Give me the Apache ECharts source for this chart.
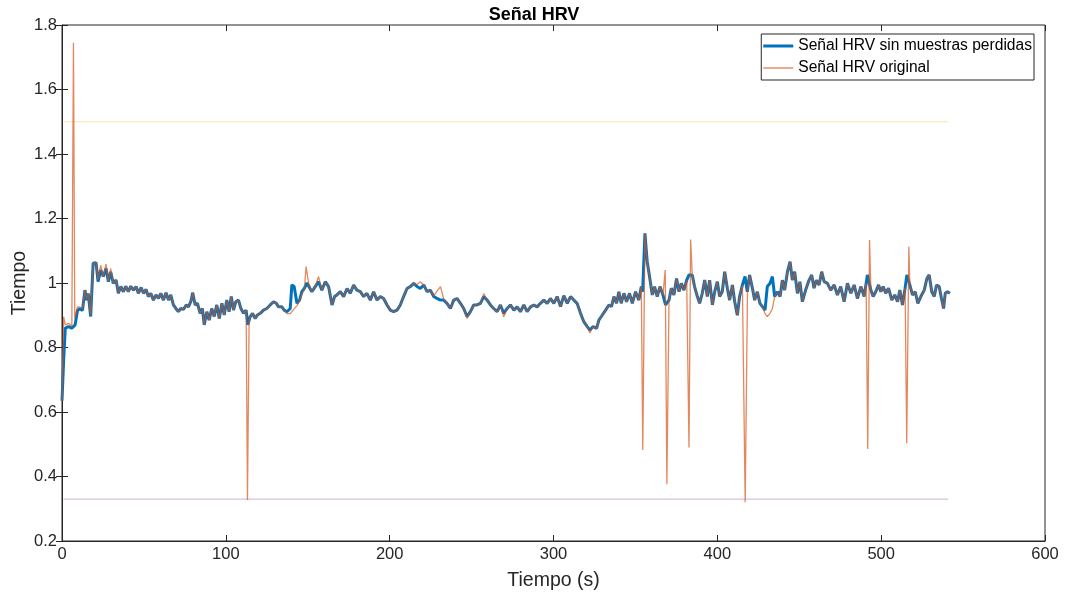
<!DOCTYPE html>
<html>
<head>
<meta charset="utf-8">
<script src="https://cdn.jsdelivr.net/npm/echarts@6/dist/echarts.min.js"></script>
<style>html,body{margin:0;padding:0;background:#fff;}#chart{width:1068px;height:598px;}</style>
</head>
<body>
<div id="chart"></div>
<script>
// ---- DATA ----
const xTicks = [0, 100, 200, 300, 400, 500, 600];
const yTicks = [0.2, 0.4, 0.6, 0.8, 1, 1.2, 1.4, 1.6, 1.8];

// Señal HRV sin muestras perdidas: [tiempo (s), valor]
const senalLimpia = [
[0,0.635],[1,0.76],[2,0.86],[4,0.865],[6,0.86],[8,0.87],[9.5,0.916],[11,0.92],[12.5,0.915],[14,0.978],[15,0.947],[16,0.968],[17.5,0.896],[19,1.061],[20.8,1.063],[22,1.004],[23.6,1.04],[25.2,1.02],[26.9,1.045],[28.3,1.004],[29.7,1.035],[31.3,0.999],[33,1.009],[34.4,0.968],[35.9,0.989],[37.5,0.973],[38.9,0.99],[40.5,0.973],[42,0.99],[43.6,0.978],[45.2,0.989],[46.6,0.968],[48.3,0.986],[49.7,0.968],[51.3,0.98],[52.7,0.958],[54.2,0.968],[55.8,0.947],[57.4,0.963],[58.9,0.952],[60.3,0.968],[61.9,0.947],[63.5,0.97],[65,0.947],[66.4,0.963],[68,0.932],[69.5,0.921],[71,0.911],[72.5,0.921],[74.1,0.918],[75.8,0.932],[77.2,0.926],[78.6,0.942],[79.8,0.97],[81.3,0.932],[82.7,0.937],[84.3,0.906],[85.7,0.921],[86.8,0.87],[88.4,0.911],[89.8,0.885],[91.4,0.921],[92.9,0.896],[94.5,0.932],[96,0.89],[97.6,0.937],[99,0.901],[100.6,0.947],[102,0.911],[103.3,0.958],[104.7,0.916],[106.1,0.942],[107.7,0.947],[109.2,0.921],[110.8,0.906],[112.4,0.916],[113.4,0.87],[114.9,0.896],[116.3,0.906],[117.9,0.89],[119.3,0.901],[121,0.906],[123,0.916],[125,0.921],[127.1,0.932],[129.1,0.942],[130.8,0.937],[132.2,0.926],[134.2,0.926],[135.6,0.916],[137.3,0.911],[139.3,0.921],[140.3,0.994],[141.7,0.989],[143.4,0.937],[145,0.947],[146.4,0.973],[147.9,0.983],[149.5,1.0],[150.5,1.004],[152.5,0.973],[154.6,0.989],[156.6,1.004],[158.6,0.978],[160.7,1.004],[162.7,0.989],[164.8,0.932],[166.4,0.958],[167.8,0.963],[169.9,0.973],[171.9,0.958],[174,0.983],[176,0.968],[178,0.994],[180,0.978],[182.1,0.973],[184.1,0.958],[186.1,0.968],[188.2,0.947],[190.2,0.973],[192.3,0.947],[194.3,0.958],[196.3,0.952],[198.4,0.932],[200.4,0.916],[202.4,0.911],[204.5,0.916],[206.5,0.932],[208.5,0.958],[210.6,0.983],[212.6,0.989],[214.7,0.999],[216.7,0.989],[218.7,0.983],[220.8,0.994],[222.8,0.973],[224.8,0.978],[226.9,0.958],[228.9,0.952],[231,0.947],[233,0.947],[235,0.937],[237.1,0.921],[239.1,0.947],[241.1,0.952],[243.2,0.937],[245.2,0.921],[247.2,0.896],[249.3,0.911],[251.3,0.932],[253.3,0.932],[255.4,0.937],[257.4,0.958],[259.5,0.947],[261.5,0.932],[263.5,0.921],[265.6,0.911],[267.6,0.932],[269.6,0.906],[271.7,0.921],[273.7,0.932],[275.8,0.916],[277.8,0.926],[279.8,0.911],[281.9,0.932],[283.9,0.911],[286,0.926],[288,0.932],[290,0.926],[292,0.937],[294.1,0.947],[296.1,0.937],[298.1,0.952],[300.2,0.937],[302.2,0.958],[304.3,0.927],[306.3,0.961],[308.4,0.937],[310.4,0.958],[312.4,0.947],[314.4,0.937],[316.5,0.906],[318.5,0.88],[320.6,0.865],[322.2,0.854],[324.2,0.865],[326.3,0.859],[327.7,0.885],[329.7,0.9],[331.8,0.916],[333.8,0.932],[335.4,0.927],[336.9,0.958],[338.5,0.937],[339.9,0.973],[341.3,0.937],[343,0.968],[344.6,0.942],[346.4,0.968],[348.1,0.937],[350.1,0.973],[352.1,0.947],[353.6,0.989],[354.4,0.973],[355.8,1.154],[357.2,1.066],[358.8,1.014],[360.3,0.963],[361.7,0.989],[363.3,0.958],[365,0.989],[366.8,0.963],[368.4,0.932],[370.5,0.947],[371.9,0.984],[373.5,0.963],[375.1,1.014],[376.6,0.973],[378,0.999],[379.6,0.978],[381.3,1.009],[382.7,1.025],[384.7,1.025],[386.1,0.989],[387.8,0.958],[389.2,0.937],[390.8,0.968],[392.3,1.009],[393.9,0.958],[395.3,1.009],[397,0.932],[398.4,0.973],[400,1.004],[401.4,0.958],[403,0.973],[404.5,1.035],[406.1,0.984],[407.5,0.947],[409.2,0.994],[410.6,0.942],[412.2,0.9],[413.6,0.958],[415.3,0.994],[416.9,1.02],[418.3,0.973],[419.7,1.025],[421.4,0.984],[422.8,0.947],[424.4,0.973],[426,0.937],[427.5,0.927],[429.1,0.916],[430.5,0.989],[432.2,0.999],[433.6,1.02],[435,0.958],[436.7,0.973],[438.3,0.958],[439.7,1.009],[441.1,0.978],[442.8,1.035],[444.4,1.066],[445.8,1.009],[447.2,1.035],[448.9,0.968],[450.4,1.004],[451.9,0.942],[453.9,0.978],[456,1.009],[457.6,1.025],[459,0.984],[460.5,1.009],[462.1,0.994],[463.7,1.035],[465.2,1.004],[467.2,0.999],[469.2,0.978],[471.3,0.994],[473.3,0.963],[475.3,0.989],[477.4,0.942],[479.4,0.999],[481.5,0.968],[483.5,0.994],[485.5,0.952],[487.6,0.989],[489.6,0.958],[491.6,1.025],[493.7,0.978],[495.1,0.958],[496.7,0.973],[498.4,0.994],[499.8,0.973],[501.2,0.989],[502.8,0.968],[504.5,0.984],[506.5,0.947],[508.3,0.963],[510,0.942],[511.4,0.978],[513,0.932],[514.6,0.984],[515.7,1.025],[517.5,0.994],[519.1,0.963],[520.8,0.973],[522.4,0.937],[524.2,0.958],[526.3,0.978],[527.9,1.014],[529.3,1.025],[530.9,0.973],[532.4,0.958],[533.8,0.994],[535.4,0.989],[536.8,0.952],[538.1,0.921],[539.1,0.968],[540.5,0.973],[542,0.968]
];

// Señal HRV original: [tiempo (s), valor]
const senalOriginal = [
[0,0.635],[1,0.895],[2,0.87],[4,0.875],[6,0.865],[6.5,0.87],[7,1.745],[7.8,0.89],[9.5,0.926],[11,0.925],[12.5,0.92],[14,0.978],[15,0.95],[16,0.968],[17.5,0.9],[19,1.061],[20.8,1.063],[22,1.01],[23.6,1.055],[25.2,1.02],[26.9,1.059],[28.3,1.004],[29.7,1.045],[31.3,0.999],[33,1.009],[34.4,0.968],[35.9,0.989],[37.5,0.973],[38.9,0.99],[40.5,0.973],[42,0.99],[43.6,0.978],[45.2,0.989],[46.6,0.968],[48.3,0.986],[49.7,0.968],[51.3,0.98],[52.7,0.958],[54.2,0.968],[55.8,0.947],[57.4,0.963],[58.9,0.952],[60.3,0.968],[61.9,0.947],[63.5,0.97],[65,0.947],[66.4,0.963],[68,0.932],[69.5,0.921],[71,0.911],[72.5,0.921],[74.1,0.918],[75.8,0.932],[77.2,0.926],[78.6,0.942],[79.8,0.97],[81.3,0.932],[82.7,0.937],[84.3,0.906],[85.7,0.921],[86.8,0.87],[88.4,0.911],[89.8,0.885],[91.4,0.921],[92.9,0.896],[94.5,0.932],[96,0.89],[97.6,0.937],[99,0.901],[100.6,0.947],[102,0.911],[103.3,0.958],[104.7,0.916],[106.1,0.942],[107.7,0.947],[109.2,0.921],[110.8,0.906],[112.4,0.916],[113.2,0.327],[114.2,0.88],[114.9,0.896],[116.3,0.906],[117.9,0.89],[119.3,0.901],[121,0.906],[123,0.916],[125,0.921],[127.1,0.932],[129.1,0.942],[130.8,0.937],[132.2,0.926],[134.2,0.926],[135.6,0.916],[137.3,0.905],[139.3,0.905],[140.3,0.91],[141.7,0.92],[143.4,0.93],[145,0.945],[146.4,0.965],[147.9,0.98],[149,1.051],[150.5,1.0],[152.5,0.973],[154.6,0.989],[156.6,1.02],[158.6,0.978],[160.7,1.004],[162.7,0.989],[164.8,0.932],[166.4,0.958],[167.8,0.963],[169.9,0.973],[171.9,0.958],[174,0.983],[176,0.968],[178,0.994],[180,0.978],[182.1,0.973],[184.1,0.958],[186.1,0.968],[188.2,0.947],[190.2,0.973],[192.3,0.947],[194.3,0.958],[196.3,0.952],[198.4,0.932],[200.4,0.916],[202.4,0.911],[204.5,0.916],[206.5,0.932],[208.5,0.958],[210.6,0.983],[212.6,0.989],[214.7,0.999],[216.7,0.995],[218.7,1.004],[220.8,0.994],[222.8,0.973],[224.8,0.978],[226.9,0.96],[228.9,0.975],[231,0.989],[233,0.95],[235,0.937],[237.1,0.921],[239.1,0.947],[241.1,0.952],[243.2,0.937],[245.2,0.921],[247.2,0.89],[249.3,0.911],[251.3,0.932],[253.3,0.932],[255.4,0.937],[257.4,0.967],[259.5,0.947],[261.5,0.932],[263.5,0.921],[265.6,0.911],[267.6,0.932],[269.6,0.895],[271.7,0.921],[273.7,0.932],[275.8,0.916],[277.8,0.926],[279.8,0.911],[281.9,0.932],[283.9,0.911],[286,0.926],[288,0.932],[290,0.926],[292,0.937],[294.1,0.947],[296.1,0.937],[298.1,0.952],[300.2,0.937],[302.2,0.958],[304.3,0.927],[306.3,0.961],[308.4,0.937],[310.4,0.958],[312.4,0.947],[314.4,0.937],[316.5,0.906],[318.5,0.88],[320.6,0.865],[322.2,0.845],[324.2,0.865],[326.3,0.859],[327.7,0.885],[329.7,0.9],[331.8,0.916],[333.8,0.932],[335.4,0.927],[336.9,0.958],[338.5,0.937],[339.9,0.973],[341.3,0.937],[343,0.968],[344.6,0.942],[346.4,0.968],[348.1,0.937],[350.1,0.973],[352.1,0.947],[353.6,0.989],[354.5,0.482],[355.8,1.154],[357.2,1.066],[358.8,1.014],[360.3,0.963],[361.7,0.989],[363.3,0.958],[365,0.989],[366.8,0.963],[368.2,1.04],[369.2,0.376],[370.5,0.947],[371.9,0.984],[373.5,0.963],[375.1,1.014],[376.6,0.973],[378,0.999],[379.6,0.978],[381.3,1.009],[382.7,0.49],[383.7,1.135],[384.7,1.025],[386.1,0.989],[387.8,0.958],[389.2,0.937],[390.8,0.968],[392.3,1.009],[393.9,0.958],[395.3,1.009],[397,0.932],[398.4,0.973],[400,1.004],[401.4,0.958],[403,0.973],[404.5,1.035],[406.1,0.984],[407.5,0.947],[409.2,0.994],[410.6,0.942],[412.2,0.9],[413.6,0.958],[415.3,0.994],[417,0.32],[418.4,0.97],[419.7,1.025],[421.4,0.984],[422.8,0.947],[424.4,0.973],[426,0.937],[427.5,0.927],[429.1,0.905],[430.5,0.896],[432.2,0.906],[433.6,0.921],[435,0.958],[436.7,0.973],[438.3,0.958],[439.7,1.009],[441.1,0.978],[442.8,1.035],[444.4,1.066],[445.8,1.009],[447.2,1.035],[448.9,0.968],[450.4,1.004],[451.9,0.942],[453.9,0.978],[456,1.009],[457.6,1.025],[459,0.984],[460.5,1.009],[462.1,0.994],[463.7,1.035],[465.2,1.004],[467.2,0.999],[469.2,0.978],[471.3,0.994],[473.3,0.963],[475.3,0.989],[477.4,0.942],[479.4,0.999],[481.5,0.968],[483.5,0.994],[485.5,0.952],[487.6,0.989],[489.6,0.958],[490.8,1.0],[491.8,0.485],[492.9,1.133],[493.7,0.978],[495.1,0.958],[496.7,0.973],[498.4,0.994],[499.8,0.973],[501.2,0.989],[502.8,0.968],[504.5,0.984],[506.5,0.947],[508.3,0.963],[510,0.942],[511.4,0.978],[513,0.932],[514.6,0.984],[515.6,0.503],[516.9,1.113],[517.5,0.994],[519.1,0.963],[520.8,0.973],[522.4,0.937],[524.2,0.958],[526.3,0.978],[527.9,1.014],[529.3,1.025],[530.9,0.973],[532.4,0.958],[533.8,0.994],[535.4,0.989],[536.8,0.952],[538.1,0.921],[539.1,0.968],[540.5,0.973],[542,0.968]
];

// Umbrales horizontales: [tiempo inicio, tiempo fin], valor
const umbralTiempo = [1, 541];
const umbralSuperior = 1.5;
const umbralInferior = 0.33;

// ---- CHART ----
const FONT = 'Liberation Sans, Arial, sans-serif';
const TXT = '#262626';
const AX = '#262626';
const chart = echarts.init(document.getElementById('chart'), null, {renderer: 'canvas'});

const hiddenAxisCommon = {
  axisLabel: {show: false}, splitLine: {show: false},
  axisLine: {show: false},
  axisTick: {show: true, inside: true, length: 6, lineStyle: {color: AX}}
};

chart.setOption({
  animation: false,
  backgroundColor: '#ffffff',
  title: {
    text: 'Señal HRV', left: 'center', top: 1,
    textStyle: {fontFamily: FONT, fontSize: 18, fontWeight: 'bold', color: '#000'}
  },
  legend: {
    data: [
      {name: 'Señal HRV sin muestras perdidas', icon: 'path://M0,0H30V3H0Z'},
      {name: 'Señal HRV original', icon: 'path://M0,0H30V1H0Z'}
    ],
    orient: 'vertical',
    right: 34, top: 34,
    itemWidth: 30, itemHeight: 12, itemGap: 6, itemSpacing: 3,
    symbolKeepAspect: true,
    padding: [4, 2, 4, 2],
    borderColor: '#262626', borderWidth: 1,
    backgroundColor: '#ffffff',
    textStyle: {fontFamily: FONT, fontSize: 15.6, color: '#000'}
  },
  grid: {left: 62, right: 23, top: 25, bottom: 57, show: true, borderColor: AX, borderWidth: 1,
    backgroundColor: 'transparent', containLabel: false, outerBoundsMode: 'none'},
  xAxis: [{
    type: 'value', min: 0, max: 600, interval: 100,
    name: 'Tiempo (s)', nameLocation: 'middle', nameGap: 30, nameMoveOverlap: false,
    nameTextStyle: {fontFamily: FONT, fontSize: 19.5, color: TXT},
    axisLine: {show: true, onZero: false, lineStyle: {color: AX}},
    axisTick: {show: true, inside: true, length: 6, lineStyle: {color: AX}},
    axisLabel: {fontFamily: FONT, fontSize: 16.5, color: TXT, margin: 5,
      formatter: v => xTicks.includes(v) ? String(v) : ''},
    splitLine: {show: false}
  }, Object.assign({type: 'value', min: 0, max: 600, interval: 100, position: 'top'}, hiddenAxisCommon)],
  yAxis: [{
    type: 'value', min: 0.2, max: 1.8, interval: 0.2,
    name: 'Tiempo', nameLocation: 'middle', nameGap: 32, nameRotate: 90, nameMoveOverlap: false,
    nameTextStyle: {fontFamily: FONT, fontSize: 19.5, color: TXT},
    axisLine: {show: true, onZero: false, lineStyle: {color: AX}},
    axisTick: {show: true, inside: true, length: 6, lineStyle: {color: AX}},
    axisLabel: {fontFamily: FONT, fontSize: 16.5, color: TXT, margin: 5,
      formatter: v => { const r = Math.round(v * 10) / 10; return yTicks.includes(r) ? String(r) : ''; }},
    splitLine: {show: false}
  }, Object.assign({type: 'value', min: 0.2, max: 1.8, interval: 0.2, position: 'right'}, hiddenAxisCommon)],
  series: [
    {
      name: 'Señal HRV sin muestras perdidas', type: 'line', data: senalLimpia,
      showSymbol: false, symbol: 'none', z: 3,
      lineStyle: {color: '#0072BD', width: 3}, itemStyle: {color: '#0072BD'}
    },
    {
      name: 'Señal HRV original', type: 'line', data: senalOriginal,
      showSymbol: false, symbol: 'none', z: 4,
      lineStyle: {color: '#D95319', width: 1.3, opacity: 0.7}, itemStyle: {color: '#D95319'}
    },
    {
      name: 'umbralSup', type: 'line', silent: true, symbol: 'none', z: 2,
      data: umbralTiempo.map(t => [t, umbralSuperior]),
      lineStyle: {color: '#EDB120', width: 1.2, opacity: 0.35}
    },
    {
      name: 'umbralInf', type: 'line', silent: true, symbol: 'none', z: 2,
      data: umbralTiempo.map(t => [t, umbralInferior]),
      lineStyle: {color: '#7E2F8E', width: 1.2, opacity: 0.3}
    }
  ]
});
</script>
</body>
</html>
